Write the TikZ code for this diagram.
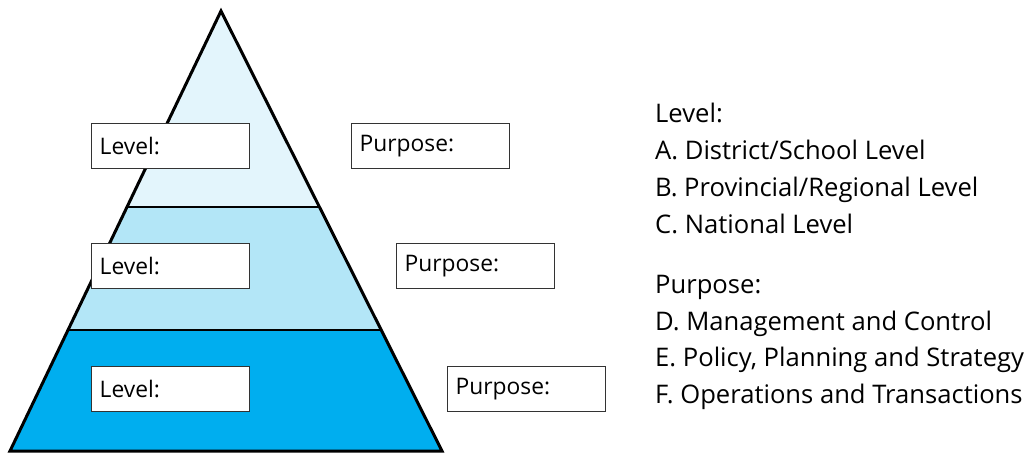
\documentclass[tikz,border=0pt]{standalone}
\usepackage{fontspec}
\setmainfont{Open Sans}
\usetikzlibrary{calc}
\definecolor{bandtop}{HTML}{E3F5FC}
\definecolor{bandmid}{HTML}{B3E6F7}
\definecolor{bandbot}{HTML}{00AEEF}
\definecolor{boxline}{HTML}{333333}
\tikzset{
  fieldbox/.style={draw=boxline, line width=1.4pt, fill=white, anchor=north west,
    minimum width=158pt, minimum height=45pt, inner xsep=8pt, inner ysep=0pt,
    text width=142pt, align=left, font=\fontsize{22.8}{26}\selectfont},
  legendline/.style={anchor=base west, inner sep=0pt, font=\fontsize{25.6}{29}\selectfont},
  outline/.style={draw=black, line width=3pt, line join=miter},
  divider/.style={draw=black, line width=1.8pt}
}
\begin{document}
\begin{tikzpicture}[x=1pt, y=-1pt]
\useasboundingbox (0,0) rectangle (1031,453);
\coordinate (apex) at (221,11);
\coordinate (bl) at (10,451);
\coordinate (br) at (442,451);
\coordinate (t1l) at ($(apex)!0.4455!(bl)$);
\coordinate (t1r) at ($(apex)!0.4455!(br)$);
\coordinate (t2l) at ($(apex)!0.7250!(bl)$);
\coordinate (t2r) at ($(apex)!0.7250!(br)$);
% bands
\fill[bandtop] (apex) -- (t1r) -- (t1l) -- cycle;
\fill[bandmid] (t1l) -- (t1r) -- (t2r) -- (t2l) -- cycle;
\fill[bandbot] (t2l) -- (t2r) -- (br) -- (bl) -- cycle;
\draw[divider] (t1l) -- (t1r);
\draw[divider] (t2l) -- (t2r);
\draw[outline] (apex) -- (br) -- (bl) -- cycle;
% boxes
\node[fieldbox] (lvl1) at (91,123) {Level:};
\node[fieldbox] (lvl2) at (91,243) {Level:};
\node[fieldbox] (lvl3) at (91,366) {Level:};
\node[fieldbox] (pur1) at (351,123) {Purpose:};
\node[fieldbox] (pur2) at (396,243) {Purpose:};
\node[fieldbox] (pur3) at (447,366) {Purpose:};
% legend
\node[legendline] (lgA0) at (655,122) {Level:};
\node[legendline] (lgA) at (655,159) {A. District/School Level};
\node[legendline] (lgB) at (655,196) {B. Provincial/Regional Level};
\node[legendline] (lgC) at (655,233) {C. National Level};
\node[legendline] (lgD0) at (655,293) {Purpose:};
\node[legendline] (lgD) at (655,330) {D. Management and Control};
\node[legendline] (lgE) at (655,366) {E. Policy, Planning and Strategy};
\node[legendline] (lgF) at (655,403) {F. Operations and Transactions};
\end{tikzpicture}
\end{document}
